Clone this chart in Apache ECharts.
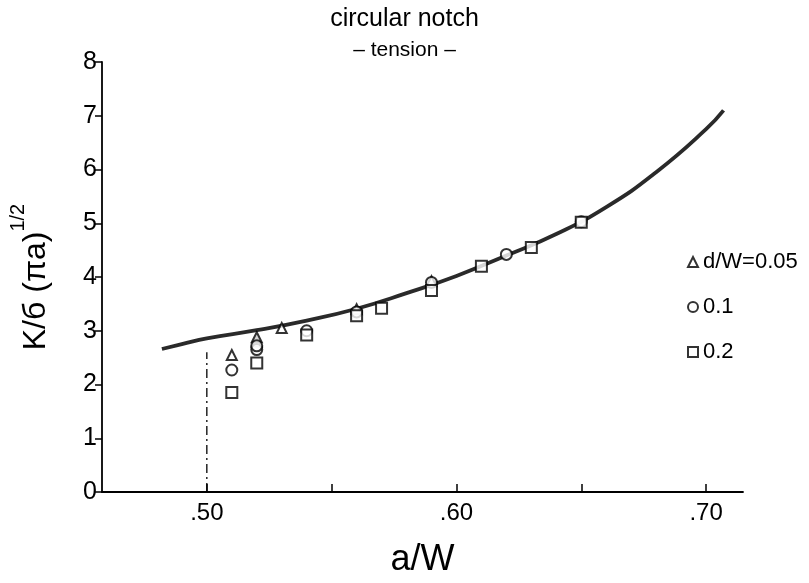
<!DOCTYPE html>
<html><head><meta charset="utf-8">
<script src="https://cdn.jsdelivr.net/npm/echarts@6/dist/echarts.min.js"></script>
<style>html,body{margin:0;padding:0;background:#fff}#c{width:809px;height:583px}</style>
</head><body><div id="c"></div>
<script>
// theoretical curve
const curveX = [0.482, 0.49, 0.50, 0.52, 0.54, 0.56, 0.58, 0.60, 0.62, 0.64, 0.66, 0.68, 0.70, 0.707];
const curveY = [2.66, 2.75, 2.86, 3.01, 3.19, 3.41, 3.70, 4.02, 4.40, 4.80, 5.30, 5.95, 6.75, 7.10];
// measured points
const triX = [0.51, 0.52, 0.52, 0.53, 0.56, 0.59];
const triY = [2.55, 2.80, 2.88, 3.05, 3.40, 3.92];
const cirX = [0.51, 0.52, 0.52, 0.54, 0.56, 0.59, 0.62, 0.65];
const cirY = [2.27, 2.65, 2.72, 3.00, 3.35, 3.90, 4.42, 5.03];
const sqX = [0.51, 0.52, 0.54, 0.56, 0.57, 0.59, 0.61, 0.63, 0.65];
const sqY = [1.85, 2.40, 2.92, 3.28, 3.42, 3.75, 4.20, 4.55, 5.02];
// dash-dot marker line at a/W = .50
const dashX = [0.50, 0.50];
const dashY = [0, 2.6];
const legendNames = ['d/W=0.05', '0.1', '0.2'];
const xTicks = [0.50, 0.55, 0.60, 0.65, 0.70];
const xLabels = [0.50, 0.60, 0.70];

const zip = (a, b) => a.map((v, i) => [v, b[i]]);
const F = 'Liberation Sans, Arial, sans-serif';
const mk = { color: '#fff', borderColor: '#000', borderWidth: 2 };

const chart = echarts.init(document.getElementById('c'), null, { renderer: 'canvas' });
chart.setOption({
  animation: false,
  backgroundColor: '#fff',
  title: {
    left: 'center', top: 2, itemGap: 8,
    text: 'circular notch',
    subtext: '– tension –',
    textStyle: { fontFamily: F, fontSize: 25, fontWeight: 'normal', color: '#000' },
    subtextStyle: { fontFamily: F, fontSize: 21, color: '#000' }
  },
  legend: {
    orient: 'vertical', left: 687, top: 251, itemGap: 23, padding: 0,
    itemWidth: 10, itemHeight: 10,
    textStyle: { fontFamily: F, fontSize: 22, color: '#000' },
    data: legendNames
  },
  grid: { left: 100, right: 66, top: 62, bottom: 77 },
  xAxis: {
    type: 'value', min: 0.458, max: 0.7148,
    axisLine: { lineStyle: { color: '#000', width: 1.8 } },
    axisTick: { inside: true, length: 8, customValues: xTicks, lineStyle: { color: '#000', width: 1.5 } },
    splitLine: { show: false },
    axisLabel: {
      fontFamily: F, fontSize: 24, color: '#000', margin: 9, customValues: xLabels,
      formatter: v => '.' + Math.round(v * 100)
    },
    name: 'a/W', nameLocation: 'middle', nameGap: 50,
    nameTextStyle: { fontFamily: F, fontSize: 36, color: '#000' }
  },
  yAxis: {
    type: 'value', min: 0, max: 8, interval: 1,
    axisLine: { lineStyle: { color: '#000', width: 1.8 } },
    axisTick: { length: 7, lineStyle: { color: '#000', width: 1.5 } },
    splitLine: { show: false },
    axisLabel: { fontFamily: F, fontSize: 25, color: '#000', margin: 5 },
    name: '{a|K/б (πa)}{s|1/2}', nameLocation: 'middle', nameGap: 50, nameRotate: 90,
    nameTextStyle: {
      rich: {
        a: { fontFamily: F, fontSize: 32, color: '#000', lineHeight: 44, verticalAlign: 'bottom' },
        s: { fontFamily: F, fontSize: 20, color: '#000', lineHeight: 36, verticalAlign: 'top' }
      }
    }
  },
  series: [
    { type: 'line', data: zip(curveX, curveY), smooth: true, symbol: 'none',
      lineStyle: { color: '#2a2a2a', width: 3.8 }, z: 1 },
    { type: 'line', data: zip(dashX, dashY), symbol: 'none',
      lineStyle: { color: '#000', width: 1.3, type: [9, 4, 2, 4] }, z: 1 },
    { name: legendNames[0], type: 'scatter', symbol: 'triangle', symbolSize: 10,
      data: zip(triX, triY), itemStyle: mk, z: 3 },
    { name: legendNames[1], type: 'scatter', symbol: 'circle', symbolSize: 11,
      data: zip(cirX, cirY), itemStyle: mk, z: 3 },
    { name: legendNames[2], type: 'scatter', symbol: 'rect', symbolSize: 11,
      data: zip(sqX, sqY), itemStyle: mk, z: 3 }
  ]
});
</script>
</body></html>
